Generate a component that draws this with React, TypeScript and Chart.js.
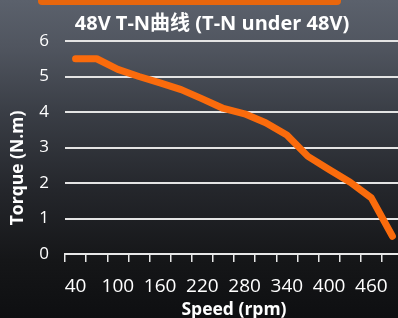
import React, { useEffect, useRef } from "react";
import { Chart, registerables } from "chart.js";

Chart.register(...registerables);

const speeds = ["40", "70", "100", "130", "160", "190", "220", "250", "280", "310", "340", "370", "400", "430", "460", "490"];
const torque = [5.5, 5.5, 5.2, 5.0, 4.82, 4.63, 4.37, 4.1, 3.95, 3.7, 3.35, 2.75, 2.38, 2.02, 1.58, 0.5];
const chartTitle = "48V T-N曲线 (T-N under 48V)";
const xTitle = "Speed (rpm)";
const yTitle = "Torque (N.m)";

const FONT = "'Open Sans', 'Noto Sans CJK SC', sans-serif";

export default function App() {
  const ref = useRef<HTMLCanvasElement | null>(null);

  useEffect(() => {
    if (!ref.current) return;
    const chart = new Chart(ref.current, {
      type: "line",
      data: {
        labels: speeds,
        datasets: [
          {
            label: "Torque",
            data: torque,
            borderColor: "#FA6B0C",
            backgroundColor: "#FA6B0C",
            borderWidth: 7,
            borderCapStyle: "round",
            borderJoinStyle: "round",
            pointRadius: 0,
            tension: 0,
          },
        ],
      },
      options: {
        animation: false,
        responsive: true,
        maintainAspectRatio: false,
        layout: { padding: 0 },
        plugins: {
          legend: { display: false },
          tooltip: { enabled: false },
          title: {
            display: true,
            text: chartTitle,
            color: "#ffffff",
            font: { family: FONT, size: 20, weight: "bold" },
            padding: { top: 12, bottom: 5 },
          },
        },
        scales: {
          x: {
            offset: true,
            grid: {
              offset: true,
              drawOnChartArea: false,
              color: "#e8e8e8",
              lineWidth: 1.5,
              tickLength: 8,
            },
            border: { color: "#e8e8e8", width: 2 },
            ticks: {
              color: "#ffffff",
              font: { family: FONT, size: 19 },
              autoSkip: false,
              maxRotation: 0,
              padding: 13,
              callback: (_v: any, i: number) => (i % 2 === 0 ? speeds[i] : ""),
            },
            title: {
              display: true,
              text: xTitle,
              color: "#ffffff",
              font: { family: FONT, size: 17.5, weight: "bold" },
              padding: { top: 0, bottom: -3 },
            },
            afterFit: (s: any) => {
              s.height = 64;
            },
          },
          y: {
            min: 0,
            max: 6,
            grid: { color: "#e4e4e4", lineWidth: 2, drawTicks: false },
            border: { display: false },
            ticks: {
              stepSize: 1,
              color: "#ffffff",
              font: { family: FONT, size: 17 },
              padding: 16,
            },
            title: {
              display: true,
              text: yTitle + "         ",
              color: "#ffffff",
              font: { family: FONT, size: 17.5, weight: "bold" },
              padding: { top: 8, bottom: 0 },
            },
            afterFit: (s: any) => {
              s.width = 65;
            },
          },
          yRight: {
            position: "right",
            display: true,
            min: 0,
            max: 6,
            grid: { display: false },
            border: { display: false },
            ticks: { display: false },
            afterFit: (s: any) => {
              s.width = 21;
            },
          },
        },
      },
    });
    return () => chart.destroy();
  }, []);

  return (
    <div
      style={{
        position: "fixed",
        left: 0,
        top: 0,
        width: 398,
        height: 318,
        overflow: "hidden",
        background:
          "linear-gradient(180deg, #5b616c 0%, #50555f 15%, #3a3e46 35%, #24262b 60%, #151618 82%, #0e0f11 100%)",
      }}
    >
      <div
        style={{
          position: "absolute",
          left: 38,
          top: -3,
          width: 303,
          height: 8,
          borderRadius: 4,
          background: "#E8660C",
        }}
      />
      <div style={{ position: "absolute", left: 0, top: 0, width: 424, height: 318 }}>
        <canvas ref={ref} />
      </div>
    </div>
  );
}
